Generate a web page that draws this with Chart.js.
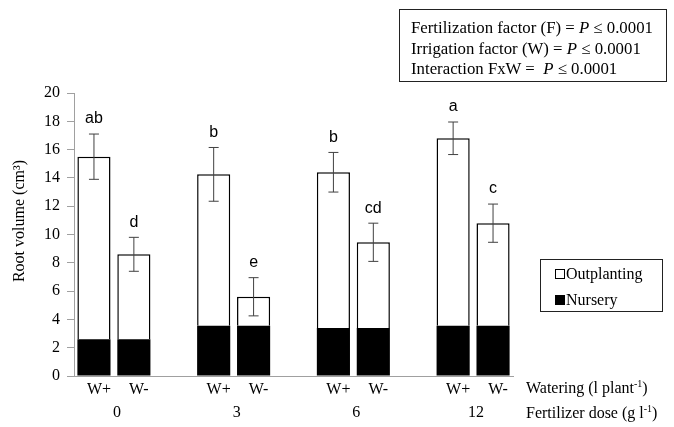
<!DOCTYPE html>
<html>
<head>
<meta charset="utf-8">
<script src="https://cdn.jsdelivr.net/npm/chart.js@4.4.1/dist/chart.umd.min.js"></script>
<style>
  html, body { margin: 0; padding: 0; background: #fff; }
  #wrap { position: relative; width: 674px; height: 427px; font-family: "Liberation Serif", "Times New Roman", serif; color: #000; }
  #chart { position: absolute; left: 0; top: 0; }
  .statbox { position: absolute; left: 399px; top: 9px; width: 268px; height: 73px; border: 1.5px solid #222; box-sizing: border-box; padding: 8px 0 0 11px; font-size: 16.8px; line-height: 20.5px; white-space: nowrap; }
  .legend { position: absolute; left: 540px; top: 259px; width: 123px; height: 53px; border: 1.5px solid #222; box-sizing: border-box; font-size: 16px; }
  .legend .item { position: absolute; left: 14px; height: 18px; line-height: 18px; white-space: nowrap; }
  .legend .sw { display: inline-block; width: 8px; height: 8px; border: 1px solid #000; margin-right: 1px; vertical-align: 0px; }
  .axlab { position: absolute; left: 526px; font-size: 16px; white-space: nowrap; line-height: 18px; }
  sup { font-size: 10px; vertical-align: 6px; line-height: 0; }
</style>
</head>
<body>
<div id="wrap">
  <canvas id="chart" width="674" height="427"></canvas>
  <div class="statbox">
    Fertilization factor (F) = <i>P</i> ≤ 0.0001<br>
    Irrigation factor (W) = <i>P</i> ≤ 0.0001<br>
    Interaction FxW =&nbsp; <i>P</i> ≤ 0.0001
  </div>
  <div class="legend">
    <div class="item" style="top:5px"><span class="sw" style="background:#fff"></span>Outplanting</div>
    <div class="item" style="top:31px"><span class="sw" style="background:#000"></span>Nursery</div>
  </div>
  <div class="axlab" style="top:379px">Watering (l plant<sup>-1</sup>)</div>
  <div class="axlab" style="top:404px">Fertilizer dose (g l<sup>-1</sup>)</div>
</div>
<script>
// empty slots are the gaps between fertilizer groups
const categories = ["W+", "W-", "", "W+", "W-", "", "W+", "W-", "", "W+", "W-"];
const doses = ["0", "3", "6", "12"];
const nursery     = [2.6, 2.6, null, 3.55, 3.55, null, 3.4, 3.4, null, 3.55, 3.55];
const outplanting = [12.9, 6.0, null, 10.7, 2.05, null, 11.0, 6.05, null, 13.25, 7.25];
const errors      = [1.6, 1.2, null, 1.9, 1.35, null, 1.4, 1.35, null, 1.15, 1.35];
const letters     = ["ab", "d", "", "b", "e", "", "b", "cd", "", "a", "c"];
const yTicks = [0, 2, 4, 6, 8, 10, 12, 14, 16, 18, 20];

const serif = "'Liberation Serif', 'Times New Roman', serif";

const extras = {
  id: "extras",
  afterDatasetsDraw(chart) {
    const ctx = chart.ctx;
    const x = chart.scales.x, y = chart.scales.y;
    ctx.save();
    // error bars + significance letters
    for (let i = 0; i < categories.length; i++) {
      if (nursery[i] == null) continue;
      const total = nursery[i] + outplanting[i];
      const px = x.getPixelForValue(i);
      const top = y.getPixelForValue(total + errors[i]);
      const bot = y.getPixelForValue(total - errors[i]);
      ctx.strokeStyle = "#404040";
      ctx.lineWidth = 1;
      ctx.beginPath();
      ctx.moveTo(px, top); ctx.lineTo(px, bot);
      ctx.moveTo(px - 5, top); ctx.lineTo(px + 5, top);
      ctx.moveTo(px - 5, bot); ctx.lineTo(px + 5, bot);
      ctx.stroke();
      ctx.fillStyle = "#000";
      ctx.font = "16px 'Liberation Sans', Arial, sans-serif";
      ctx.textAlign = "center";
      ctx.textBaseline = "middle";
      ctx.fillText(letters[i], px, top - 15);
    }
    // fertilizer dose row under each W+/W- pair
    ctx.font = "16px " + serif;
    ctx.fillStyle = "#000";
    ctx.textAlign = "center";
    ctx.textBaseline = "middle";
    doses.forEach((d, k) => {
      const mid = (x.getPixelForValue(k * 3) + x.getPixelForValue(k * 3 + 1)) / 2;
      ctx.fillText(d, mid + 3, 413);
    });
    // y axis title
    ctx.translate(20, 221);
    ctx.rotate(-Math.PI / 2);
    ctx.font = "16px " + serif;
    ctx.fillText("Root volume (cm³)", 0, 0);
    ctx.restore();
  }
};

new Chart(document.getElementById("chart"), {
  type: "bar",
  data: {
    labels: categories,
    datasets: [
      {
        label: "Nursery",
        data: nursery,
        backgroundColor: "#000",
        borderWidth: 0
      },
      {
        label: "Outplanting",
        data: outplanting,
        backgroundColor: "#fff",
        borderColor: "#000",
        borderWidth: 1.5
      }
    ]
  },
  options: {
    responsive: false,
    animation: false,
    events: [],
    layout: { padding: { left: 0, right: 161, top: 93, bottom: 0 } },
    datasets: { bar: { barPercentage: 0.83, categoryPercentage: 1 } },
    plugins: { legend: { display: false }, tooltip: { enabled: false } },
    scales: {
      x: {
        stacked: true,
        grid: { drawOnChartArea: false, drawTicks: false },
        border: { color: "#a0a0a0", width: 1 },
        ticks: { color: "#000", font: { family: serif, size: 16 }, padding: 4, labelOffset: 5, autoSkip: false, maxRotation: 0 },
        afterFit: s => { s.height = 51; }
      },
      y: {
        stacked: true,
        min: 0,
        max: 20,
        afterBuildTicks: s => { s.ticks = yTicks.map(v => ({ value: v })); },
        grid: { drawOnChartArea: false, tickLength: 7, color: "#a0a0a0" },
        border: { color: "#a0a0a0", width: 1 },
        ticks: { color: "#000", font: { family: serif, size: 16 }, padding: 7 },
        afterFit: s => { s.width = 74; }
      }
    }
  },
  plugins: [extras]
});
</script>
</body>
</html>
